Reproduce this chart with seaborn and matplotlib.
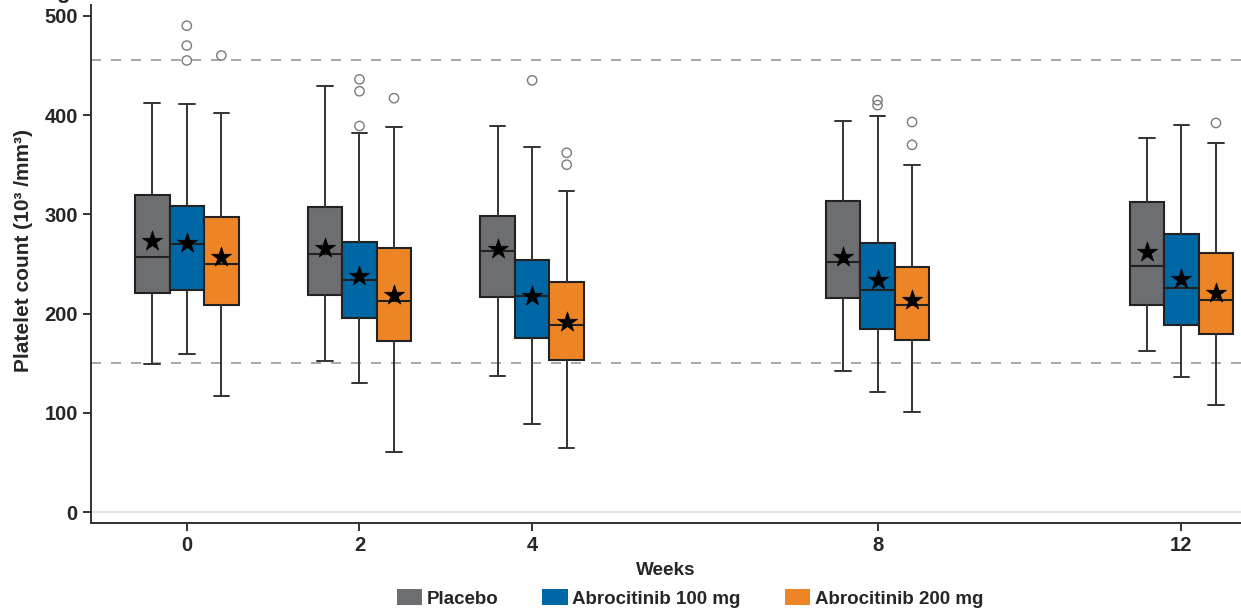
import numpy as np
import pandas as pd
import seaborn as sns
import matplotlib.pyplot as plt
from matplotlib.patches import Patch

# values (10^3/mm^3)
weeks = [0, 2, 4, 8, 12]
groups = ["Placebo", "Abrocitinib 100 mg", "Abrocitinib 200 mg"]

pbo_lo = [149, 152, 137, 142, 162]
pbo_q1 = [221, 219, 217, 216, 209]
pbo_med = [257, 260, 263, 252, 248]
pbo_q3 = [319, 307, 298, 313, 312]
pbo_hi = [412, 429, 389, 394, 377]
pbo_mean = [273, 266, 265, 257, 262]
pbo_out = [[], [], [], [], []]

a100_lo = [159, 130, 89, 121, 136]
a100_q1 = [224, 196, 175, 184, 188]
a100_med = [270, 234, 218, 224, 226]
a100_q3 = [308, 272, 254, 271, 280]
a100_hi = [411, 382, 368, 399, 390]
a100_mean = [271, 238, 218, 234, 235]
a100_out = [[490, 470, 455], [436, 424, 389], [435], [415, 410], []]

a200_lo = [117, 61, 65, 101, 108]
a200_q1 = [209, 172, 153, 173, 179]
a200_med = [250, 213, 188, 209, 214]
a200_q3 = [297, 266, 232, 247, 261]
a200_hi = [402, 388, 324, 350, 372]
a200_mean = [257, 219, 192, 214, 221]
a200_out = [[460], [417], [362, 350], [393, 370], [392]]

ref_lines = [150, 455]

# the original axis squeezes week 12 a bit closer to week 8
week_pos = [0, 2, 4, 8, 11.52]

colors = ["#6d6e71", "#0067a5", "#ed8526"]

sns.set_theme(style="ticks")
plt.rcParams["font.family"] = ["Liberation Sans", "DejaVu Sans"]
plt.rcParams["font.weight"] = "bold"

fig = plt.figure(figsize=(12.41, 6.11), dpi=100)
ax = fig.add_axes([0.0733, 0.144, 0.9267, 0.848])

all_stats = [
    (pbo_lo, pbo_q1, pbo_med, pbo_q3, pbo_hi, pbo_mean, pbo_out),
    (a100_lo, a100_q1, a100_med, a100_q3, a100_hi, a100_mean, a100_out),
    (a200_lo, a200_q1, a200_med, a200_q3, a200_hi, a200_mean, a200_out),
]
offsets = [-0.40, 0.0, 0.40]

for y in ref_lines:
    ax.axhline(y, color="#9a9a9a", lw=1.2, ls=(0, (6, 6)), zorder=1)
ax.axhline(0, color="#e2e2e2", lw=1.5, zorder=1)

mean_rows = []
out_rows = []
for g, (lo, q1, med, q3, hi, mn, out) in enumerate(all_stats):
    stats = []
    pos = []
    for i, w in enumerate(week_pos):
        stats.append({"whislo": lo[i], "q1": q1[i], "med": med[i], "q3": q3[i],
                      "whishi": hi[i], "fliers": []})
        pos.append(w + offsets[g])
        mean_rows.append({"pos": w + offsets[g], "mean": mn[i]})
        for v in out[i]:
            out_rows.append({"pos": w + offsets[g], "val": v})
    ax.bxp(stats, positions=pos, widths=0.40, patch_artist=True, showfliers=False,
           capwidths=0.18,
           boxprops=dict(facecolor=colors[g], edgecolor="#222222", lw=1.5),
           medianprops=dict(color="#222222", lw=1.5),
           whiskerprops=dict(color="#333333", lw=1.4),
           capprops=dict(color="#333333", lw=1.4), zorder=2)

mean_df = pd.DataFrame(mean_rows)
out_df = pd.DataFrame(out_rows)

sns.scatterplot(data=out_df, x="pos", y="val", ax=ax, marker="o", s=45,
                facecolor="none", edgecolor="#7a7a7a", linewidth=1.0, zorder=3)
sns.scatterplot(data=mean_df, x="pos", y="mean", ax=ax, marker="*", s=230,
                color="black", edgecolor="black", linewidth=0.5, zorder=4)

ax.set_xlim(-1.11, 12.21)
ax.set_ylim(-11, 511)
ax.set_xticks(week_pos)
ax.set_xticklabels([str(w) for w in weeks])
ax.set_yticks([0, 100, 200, 300, 400, 500])
ax.tick_params(axis="both", labelsize=14.5, width=1.4, length=6, color="#333333")
for lab in ax.get_xticklabels() + ax.get_yticklabels():
    lab.set_fontweight("bold")

sns.despine(ax=ax)
for s in ["left", "bottom"]:
    ax.spines[s].set_color("#333333")
    ax.spines[s].set_linewidth(1.4)

ax.set_xlabel("Weeks", fontsize=13.6, fontweight="bold", labelpad=5)
ax.set_ylabel("Platelet count (10³ /mm³)", fontsize=15, fontweight="bold")
ax.yaxis.set_label_coords(-0.05, 0.525)

handles = [Patch(facecolor=c, edgecolor="none") for c in colors]
fig.legend(handles, groups, loc="lower center", bbox_to_anchor=(0.556, -0.022),
           ncol=3, frameon=False, handlelength=1.35, handleheight=0.9,
           handletextpad=0.25, columnspacing=2.35, prop={"weight": "bold", "size": 13.5})

# panel letter cut off at the top edge, as in the source figure
fig.text(0.051, 1.012, "g", fontsize=16, fontweight="bold", ha="center", va="center")

fig.savefig("out.png", dpi=100)
